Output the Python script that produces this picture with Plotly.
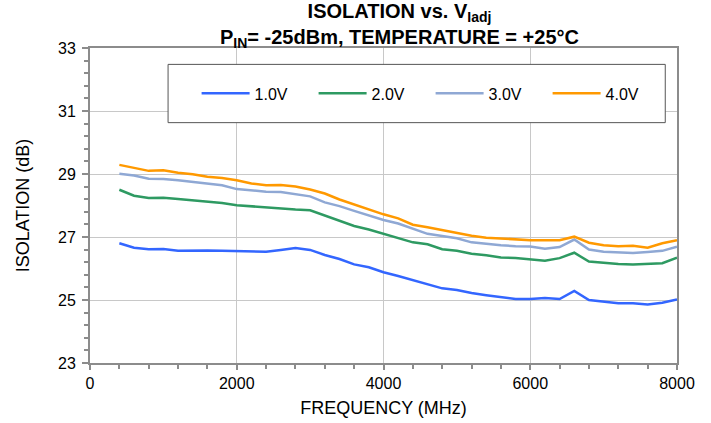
import plotly.graph_objects as go

freq = [400, 600, 800, 1000, 1200, 1400, 1600, 1800, 2000, 2200, 2400, 2600, 2800,
        3000, 3200, 3400, 3600, 3800, 4000, 4200, 4400, 4600, 4800, 5000, 5200, 5400,
        5600, 5800, 6000, 6200, 6400, 6600, 6800, 7000, 7200, 7400, 7600, 7800, 8000]

v1 = [26.80, 26.66, 26.61, 26.62, 26.56, 26.57, 26.57, 26.56, 26.55, 26.54, 26.53, 26.59, 26.65,
      26.59, 26.43, 26.30, 26.13, 26.04, 25.88, 25.76, 25.63, 25.51, 25.37, 25.32, 25.22, 25.15,
      25.10, 25.03, 25.03, 25.06, 25.03, 25.29, 25.00, 24.94, 24.90, 24.90, 24.86, 24.91, 25.02]
v2 = [28.50, 28.31, 28.24, 28.25, 28.21, 28.17, 28.11, 28.08, 28.01, 27.97, 27.93, 27.91, 27.87,
      27.85, 27.69, 27.52, 27.35, 27.24, 27.10, 26.96, 26.83, 26.77, 26.61, 26.56, 26.47, 26.42,
      26.35, 26.33, 26.28, 26.25, 26.33, 26.50, 26.22, 26.17, 26.14, 26.13, 26.14, 26.17, 26.34]
v3 = [29.01, 28.95, 28.85, 28.84, 28.80, 28.75, 28.68, 28.64, 28.52, 28.48, 28.44, 28.43, 28.36,
      28.29, 28.10, 27.98, 27.83, 27.68, 27.54, 27.43, 27.26, 27.10, 27.03, 26.96, 26.83, 26.78,
      26.74, 26.71, 26.70, 26.63, 26.68, 26.92, 26.60, 26.53, 26.51, 26.49, 26.52, 26.56, 26.69]
v4 = [29.29, 29.20, 29.10, 29.12, 29.04, 28.99, 28.91, 28.87, 28.80, 28.70, 28.64, 28.65, 28.60,
      28.51, 28.38, 28.19, 28.03, 27.89, 27.72, 27.59, 27.39, 27.31, 27.22, 27.12, 27.04, 26.98,
      26.95, 26.93, 26.90, 26.90, 26.90, 27.01, 26.82, 26.74, 26.71, 26.72, 26.66, 26.80, 26.90]

series_names = ["1.0V", "2.0V", "3.0V", "4.0V"]
series_values = [v1, v2, v3, v4]
series_colors = ["#3366FF", "#2E9A62", "#8FA8D4", "#FF9900"]

title_text = "ISOLATION vs. V<sub>Iadj</sub><br>P<sub>IN</sub>= -25dBm, TEMPERATURE = +25°C"

FONT = "Liberation Sans, Arial, sans-serif"

fig = go.Figure()
for name, vals, col in zip(series_names, series_values, series_colors):
    fig.add_trace(go.Scatter(x=freq, y=vals, name=name, mode="lines",
                             line=dict(color=col, width=2.5)))

# legend frame
fig.add_shape(type="rect", xref="paper", yref="paper", x0=0.133, x1=0.98, y0=0.763, y1=0.948,
              line=dict(color="#555555", width=1), fillcolor="white", layer="above")

# two-line title
fig.add_annotation(text=title_text, xref="paper", yref="paper", x=0.528, y=1,
                   xanchor="center", yanchor="bottom", yshift=-5, showarrow=False,
                   align="center",
                   font=dict(family=FONT, size=20, color="black", weight="bold"))

fig.update_layout(
    width=711, height=423,
    margin=dict(l=90, r=34, t=48, b=60),
    paper_bgcolor="white", plot_bgcolor="white",
    font=dict(family=FONT, size=16, color="black"),
    showlegend=True,
    legend=dict(orientation="h", x=0.1816, xanchor="left", y=0.856, yanchor="middle",
                bgcolor="rgba(0,0,0,0)", borderwidth=0,
                font=dict(family=FONT, size=16, color="black"),
                itemwidth=48, entrywidth=54, entrywidthmode="pixels"),
)

fig.update_xaxes(range=[0, 8000], tickmode="linear", tick0=0, dtick=2000,
                 showgrid=True, gridcolor="#C8C8C8", gridwidth=1,
                 showline=True, linecolor="#8C8C8C", linewidth=2, mirror=True,
                 ticks="outside", ticklen=5, tickcolor="#8C8C8C", tickwidth=1.5,
                 minor=dict(dtick=400, ticks="outside", ticklen=4, tickcolor="#8C8C8C", showgrid=False),
                 zeroline=False, ticklabelstandoff=0, automargin=False,
                 tickfont=dict(family=FONT, size=16),
                 title=dict(text="FREQUENCY (MHz)", font=dict(family=FONT, size=18), standoff=10))
fig.update_yaxes(range=[23, 33], tickmode="linear", tick0=23, dtick=2,
                 showgrid=True, gridcolor="#C8C8C8", gridwidth=1,
                 showline=True, linecolor="#8C8C8C", linewidth=2, mirror=True,
                 ticks="outside", ticklen=6, tickcolor="#8C8C8C", tickwidth=1.5,
                 minor=dict(dtick=0.4, tick0=23, ticks="outside", ticklen=4, tickcolor="#8C8C8C", showgrid=False),
                 zeroline=False, ticklabelstandoff=3, automargin=False,
                 tickfont=dict(family=FONT, size=16),
                 title=dict(text="ISOLATION (dB)", font=dict(family=FONT, size=18), standoff=24))

fig.write_html("out.html", config={"displayModeBar": False},
               post_script="document.body.style.margin='0';")
